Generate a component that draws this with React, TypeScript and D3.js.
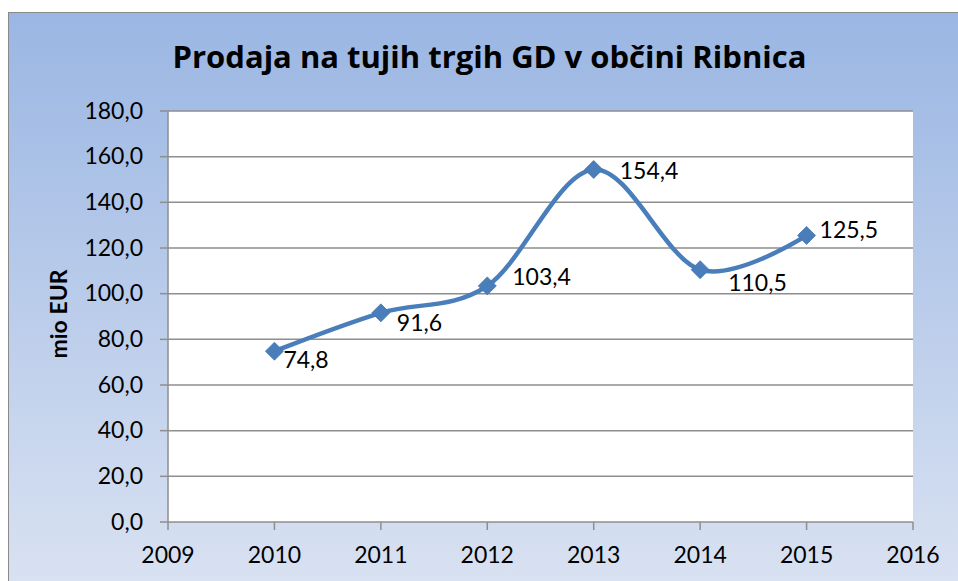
import React from "react";
import * as d3 from "d3";

const years: number[] = [2010, 2011, 2012, 2013, 2014, 2015];
const values: number[] = [74.8, 91.6, 103.4, 154.4, 110.5, 125.5];
const yTicks: number[] = [0, 20, 40, 60, 80, 100, 120, 140, 160, 180];
const xTicks: number[] = [2009, 2010, 2011, 2012, 2013, 2014, 2015, 2016];
const title = "Prodaja na tujih trgih GD v občini Ribnica";
const yAxisTitle = "mio EUR";

// label offsets (layout, px) relative to each point
const labelDx: number[] = [9, 16, 25, 26, 28, 13];
const labelDy: number[] = [9, 10, -9, 2, 13, -5];

const W = 958;
const H = 581;
const plot = { left: 168, top: 111, right: 913, bottom: 522 };
const FONT = "Lato, 'Open Sans', sans-serif";
const TFONT = "'Open Sans', Lato, sans-serif";
const fmt = (v: number) => v.toFixed(1).replace(".", ",");

export default function App() {
  const x = d3.scaleLinear().domain([2009, 2016]).range([plot.left, plot.right]);
  const y = d3.scaleLinear().domain([0, 180]).range([plot.bottom, plot.top]);
  const line = d3
    .line<number>()
    .x((_, i) => x(years[i]))
    .y((d) => y(d))
    .curve(d3.curveCardinal.tension(0));
  const path = line(values) || "";
  const gray = "#8e8e8e";
  const r = 9;
  const fs = 23;
  return (
    <svg
      width={W}
      height={H}
      style={{ position: "absolute", left: 0, top: 0, background: "#fff" }}
    >
      <defs>
        <linearGradient id="bg" x1="0" y1="0" x2="0" y2="1">
          <stop offset="0" stopColor="#9ab6e3" />
          <stop offset="1" stopColor="#dbe3f2" />
        </linearGradient>
      </defs>
      <rect x={8.5} y={12.5} width={W + 10} height={H + 10} fill="url(#bg)" stroke="#8a8a8a" strokeWidth={1} />
      <rect x={plot.left} y={plot.top} width={plot.right - plot.left} height={plot.bottom - plot.top} fill="#fff" />
      <text x={489.5} y={68} textAnchor="middle" fontFamily={TFONT} fontWeight="bold" fontSize={31} fill="#000">
        {title}
      </text>
      {yTicks.map((t) => (
        <g key={t}>
          {t > 0 && (
            <line x1={plot.left} x2={plot.right} y1={y(t)} y2={y(t)} stroke={gray} strokeWidth={1.5} />
          )}
          <line x1={plot.left - 8} x2={plot.left} y1={y(t)} y2={y(t)} stroke={gray} strokeWidth={1.5} />
          <text x={143} y={y(t) + 7.5} textAnchor="end" fontFamily={FONT} fontSize={fs} fill="#000">
            {fmt(t)}
          </text>
        </g>
      ))}
      <line x1={plot.left} x2={plot.left} y1={plot.top} y2={plot.bottom} stroke={gray} strokeWidth={1.5} />
      <line x1={plot.left} x2={plot.right} y1={plot.bottom} y2={plot.bottom} stroke={gray} strokeWidth={1.5} />
      {xTicks.map((t) => (
        <g key={t}>
          <line x1={x(t)} x2={x(t)} y1={plot.bottom} y2={plot.bottom + 8} stroke={gray} strokeWidth={1.5} />
          <text x={x(t)} y={563} textAnchor="middle" fontFamily={FONT} fontSize={fs} fill="#000">
            {t}
          </text>
        </g>
      ))}
      <text
        transform={`translate(67,314) rotate(-90)`}
        textAnchor="middle"
        fontFamily={FONT}
        fontWeight="bold"
        fontSize={fs}
        fill="#000"
      >
        {yAxisTitle}
      </text>
      <path d={path} fill="none" stroke="#4a7ebb" strokeWidth={4.5} strokeLinecap="round" />
      {values.map((v, i) => {
        const cx = x(years[i]);
        const cy = y(v);
        return (
          <path
            key={i}
            d={`M${cx},${cy - r}L${cx + r},${cy}L${cx},${cy + r}L${cx - r},${cy}Z`}
            fill="#4a7ebb"
            stroke="#4675b0"
            strokeWidth={0.8}
          />
        );
      })}
      {values.map((v, i) => (
        <text
          key={i}
          x={x(years[i]) + labelDx[i]}
          y={y(v) + labelDy[i] + 8}
          fontFamily={FONT}
          fontSize={fs}
          fill="#000"
        >
          {fmt(v)}
        </text>
      ))}
    </svg>
  );
}
